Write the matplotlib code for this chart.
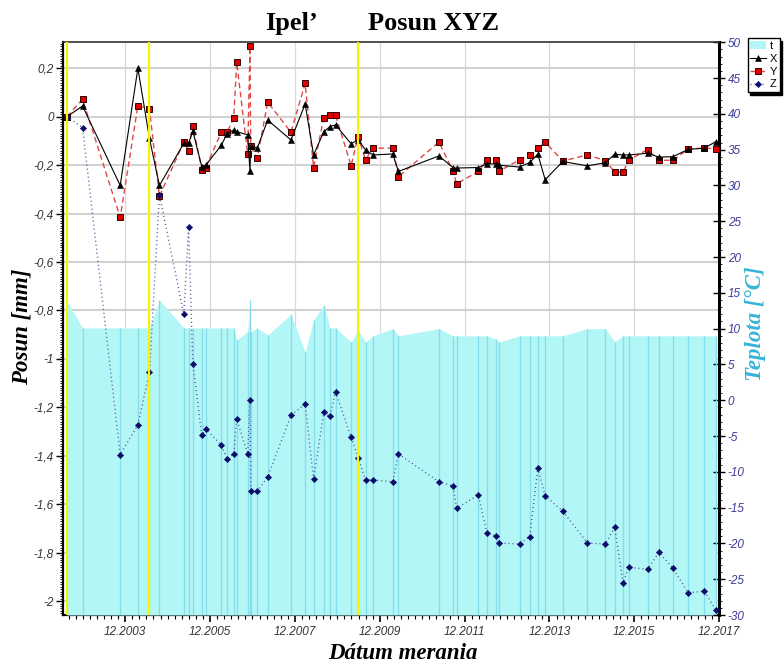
import numpy as np
import matplotlib
matplotlib.use("Agg")
import matplotlib.pyplot as plt
from matplotlib.ticker import FixedLocator, MultipleLocator
from matplotlib.patches import Patch

# ---------------- data (decimal years, mm, degC) ----------------
dates = [2002.545, 2002.912, 2003.799, 2004.216, 2004.489, 2004.724, 2005.298, 2005.411,
         2005.510, 2005.722, 2005.816, 2006.183, 2006.317, 2006.475, 2006.545, 2006.804,
         2006.858, 2006.875, 2007.030, 2007.275, 2007.823, 2008.159, 2008.357, 2008.599,
         2008.741, 2008.875, 2009.242, 2009.406, 2009.581, 2009.759, 2010.223, 2010.357,
         2011.312, 2011.642, 2011.729, 2012.239, 2012.442, 2012.646, 2012.724, 2013.211,
         2013.453, 2013.642, 2013.816, 2014.230, 2014.811, 2015.235, 2015.453, 2015.651,
         2015.783, 2016.230, 2016.498, 2016.828, 2017.188, 2017.564, 2017.839]

x_mm = [0, 0.044, -0.284, 0.2, -0.09, -0.284, -0.11, -0.11, -0.059, -0.206,
        -0.2, -0.118, -0.07, -0.055, -0.062, -0.075, -0.226, -0.12, -0.13, -0.014,
        -0.096, 0.052, -0.158, -0.062, -0.041, -0.034, -0.112, -0.095, -0.137, -0.158,
        -0.154, -0.226, -0.162, -0.21, -0.212, -0.21, -0.195, -0.195, -0.2, -0.208,
        -0.189, -0.155, -0.26, -0.185, -0.203, -0.19, -0.155, -0.158, -0.158, -0.151,
        -0.167, -0.165, -0.135, -0.13, -0.103]

y_mm = [0, 0.072, -0.416, 0.045, 0.033, -0.329, -0.105, -0.14, -0.037, -0.219,
        -0.21, -0.064, -0.064, -0.007, 0.224, -0.154, 0.29, -0.123, -0.171, 0.06,
        -0.064, 0.137, -0.21, -0.004, 0.007, 0.007, -0.203, -0.082, -0.178, -0.13,
        -0.13, -0.248, -0.105, -0.224, -0.277, -0.226, -0.178, -0.178, -0.226, -0.178,
        -0.158, -0.13, -0.105, -0.183, -0.158, -0.181, -0.229, -0.229, -0.18, -0.136,
        -0.18, -0.18, -0.133, -0.13, -0.132]

z_mm = [0, -0.045, -1.395, -1.272, -1.055, -0.322, -0.816, -0.457, -1.019, -1.316,
        -1.289, -1.356, -1.414, -1.392, -1.248, -1.392, -1.17, -1.546, -1.546, -1.488,
        -1.233, -1.186, -1.497, -1.221, -1.237, -1.136, -1.323, -1.407, -1.499, -1.499,
        -1.507, -1.392, -1.507, -1.524, -1.616, -1.562, -1.72, -1.73, -1.76, -1.764,
        -1.733, -1.45, -1.566, -1.628, -1.76, -1.764, -1.694, -1.926, -1.86, -1.868,
        -1.798, -1.864, -1.966, -1.958, -2.037]

temp = [13.8, 10.1, 10.1, 10.1, 10.1, 14.0, 10.1, 10.1, 10.1, 10.1,
        10.1, 10.1, 10.1, 10.1, 8.4, 9.6, 14.0, 9.5, 10.1, 9.1,
        12.0, 6.7, 11.2, 13.3, 10.1, 10.1, 8.1, 9.8, 8.1, 9.0,
        10.0, 9.0, 10.0, 9.0, 9.0, 9.0, 9.0, 8.6, 8.1, 9.0,
        9.0, 9.0, 9.0, 9.0, 10.0, 10.0, 8.2, 9.0, 9.0, 9.0,
        9.0, 9.0, 9.0, 9.0, 9.0]

reference_dates = [dates[0], dates[4], dates[27]]
xtick_years = [2003, 2005, 2007, 2009, 2011, 2013, 2015, 2017]
xtick_labels = ["12.%d" % y for y in xtick_years]
legend_labels = ["t", "X", "Y", "Z"]

# ---------------- figure ----------------
W, H = 784, 666
fig = plt.figure(figsize=(W / 100, H / 100), dpi=100)
fig.patch.set_facecolor("white")
L, R, T, B = 63.3, 719.3, 42.3, 615.0
pos = [L / W, 1 - B / H, (R - L) / W, (B - T) / H]

ax = fig.add_axes(pos)           # grid + left/bottom axes
axT = ax.twinx()                 # temperature
axL = fig.add_axes(pos, sharex=ax, sharey=ax)  # displacement lines on top
ax.set_zorder(1)
axT.set_zorder(2)
axL.set_zorder(3)
axT.patch.set_visible(False)
axL.patch.set_visible(False)
axL.axis("off")

sans = "Liberation Sans"
serif = "Liberation Serif"

# x axis
xticks = [y + 11 / 12 for y in xtick_years]
ax.set_xlim(2002.458, 2017.92)
ax.set_xticks(xticks, xtick_labels, fontfamily=sans, fontstyle="italic",
              fontsize=8.5, color="#333333")
ax.xaxis.set_minor_locator(FixedLocator(np.arange(xticks[0] - 2, xticks[-1] + 0.01, 1 / 6)))
ax.tick_params(axis="x", which="major", direction="out", length=5, width=1.2, pad=3)
ax.tick_params(axis="x", which="minor", direction="out", length=3, width=0.8)

# left y axis
ax.set_ylim(-2.057, 0.307)
yt = [round(v, 1) for v in np.arange(-2.0, 0.21, 0.2)]
def fmt_mm(v):
    s = "%g" % v
    if s in ("-0", "0"):
        s = "0"
    return s.replace(".", ",")
ax.set_yticks(yt, [fmt_mm(v) for v in yt], fontfamily=sans, fontstyle="italic",
              fontsize=8.5, color="#333333")
ax.yaxis.set_minor_locator(MultipleLocator(0.01))
ax.tick_params(axis="y", which="major", direction="out", length=5, width=1.0, pad=2)
ax.tick_params(axis="y", which="minor", direction="out", length=2.5, width=0.6)

# grid
ax.set_axisbelow(True)
ax.xaxis.grid(True, color="#d9d9d9", lw=0.9)
ax.yaxis.grid(True, color="#d2d2d2", lw=1.5)

# right (temperature) axis
axT.set_ylim(-30, 50)
tt = list(range(-30, 51, 5))
axT.set_yticks(tt, [str(v) for v in tt], fontfamily=sans, fontstyle="italic",
               fontsize=8.5, color="#3b3b9a")
axT.yaxis.set_minor_locator(MultipleLocator(1))
axT.tick_params(axis="y", which="major", direction="inout", length=8, width=1.0, pad=2)
axT.tick_params(axis="y", which="minor", direction="out", length=2.5, width=0.6)

# spines
for s in ("top", "right"):
    ax.spines[s].set_visible(False)
ax.spines["left"].set_linewidth(1.6)
ax.spines["bottom"].set_linewidth(1.6)
for s in ("left", "bottom"):
    axT.spines[s].set_visible(False)
axT.spines["top"].set_linewidth(1.2)
axT.spines["top"].set_color("#333333")
axT.spines["right"].set_linewidth(2.2)

# temperature area
fill_color = "#b2f6f6"
axT.fill_between(dates, temp, -30, color=fill_color, lw=0, zorder=1)
axT.vlines(dates, -30, temp, color="#84dde8", lw=0.9, zorder=2)

# displacement series
lY, = axL.plot(dates, y_mm, color="#e04848", lw=1.0, dashes=(4, 2.5),
               marker="s", ms=4.8, mfc="#e00000", mec="#330000", mew=0.7, zorder=3)
lX, = axL.plot(dates, x_mm, color="black", lw=0.8,
               marker="^", ms=4.6, mfc="black", mec="black", mew=0.4, zorder=4)
lZ, = axL.plot(dates, z_mm, color="#4a4a98", lw=1.0, dashes=(0.7, 2.2),
               marker="D", ms=3.2, mfc="#0b0b6b", mec="#0b0b6b", mew=0.4, zorder=5)

for d in reference_dates:
    axL.axvline(d, color="#f5f500", lw=1.6, zorder=6)

# labels
fig.text(291.5 / W, 1 - 30 / H, "Ipel\u2019", fontfamily=serif, fontweight="bold",
         fontsize=19, ha="center", va="baseline")
fig.text(434 / W, 1 - 30 / H, "Posun XYZ", fontfamily=serif, fontweight="bold",
         fontsize=19, ha="center", va="baseline")
fig.text(403 / W, 1 - 659 / H, "Dátum merania", fontfamily=serif, fontweight="bold",
         fontstyle="italic", fontsize=16.5, ha="center", va="baseline")
fig.text(22 / W, 1 - 327 / H, "Posun [mm]", fontfamily=serif, fontweight="bold",
         fontstyle="italic", fontsize=16.5, ha="center", va="center", rotation=90)
fig.text(755 / W, 1 - 324 / H, "Teplota [°C]", fontfamily=serif, fontweight="bold",
         fontstyle="italic", fontsize=16.5, ha="center", va="center", rotation=90,
         color="#36b4d8")

# legend
handles = [Patch(facecolor=fill_color, edgecolor="none"), lX, lY, lZ]
leg = fig.legend(handles, legend_labels, loc="upper left",
                 bbox_to_anchor=(747.7 / W, 1 - 38.3 / H), borderaxespad=0,
                 prop={"family": sans, "size": 8}, handlelength=1.4,
                 handletextpad=0.3, borderpad=0.25, labelspacing=0.25,
                 fancybox=False, edgecolor="black", framealpha=1,
                 shadow={"color": "black", "alpha": 1})
leg.get_frame().set_linewidth(1.0)

fig.savefig("out.png", dpi=100)
